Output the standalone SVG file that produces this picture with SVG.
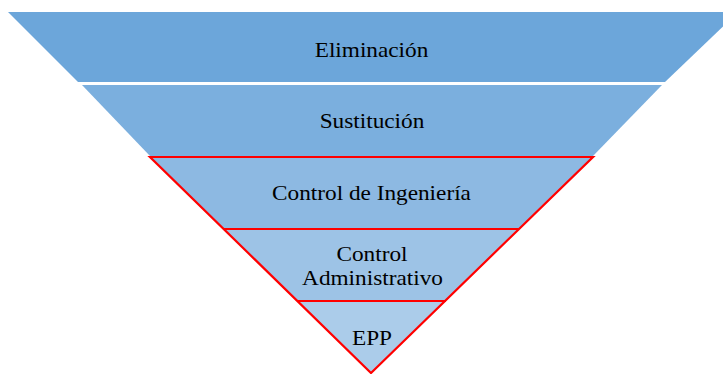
<svg xmlns="http://www.w3.org/2000/svg" width="723" height="374" viewBox="0 0 723 374">
<style>
.lbl{font-family:"Liberation Serif",serif;font-size:20.5px;fill:#000000;text-anchor:middle}
.red{fill:none;stroke:#FF0000;stroke-width:2.2;stroke-linejoin:miter}
</style>
<rect width="723" height="374" fill="#FFFFFF"/>
<g id="eliminacion">
<polygon points="8,12 738,12 665,82 78,82" fill="#6CA6DA"/>
<text class="lbl" transform="translate(371.5,57) scale(1.135,1)">Eliminación</text>
</g>
<g id="sustitucion">
<polygon points="82,85 662,85 593,156 150,156" fill="#7BAFDE"/>
<text class="lbl" transform="translate(372,127.5) scale(1.135,1)">Sustitución</text>
</g>
<g id="control-ingenieria">
<polygon points="150,157 593,157 519,229 224,229" fill="#8DB9E2"/>
<text class="lbl" transform="translate(371.5,199.5) scale(1.135,1)">Control de Ingeniería</text>
</g>
<g id="control-administrativo">
<polygon points="224,229 519,229 446,301 298,301" fill="#9DC3E6"/>
<text class="lbl" transform="translate(372,261) scale(1.135,1)">Control</text>
<text class="lbl" transform="translate(372.5,285) scale(1.135,1)">Administrativo</text>
</g>
<g id="epp">
<polygon points="298,301 446,301 371,373" fill="#ABCCEA"/>
<text class="lbl" transform="translate(372,345) scale(1.135,1)">EPP</text>
</g>
<g id="connectors">
<polygon class="red" points="150,157 593,157 371,373"/>
<line class="red" x1="224" y1="229" x2="519" y2="229"/>
<line class="red" x1="298" y1="301" x2="446" y2="301"/>
</g>
</svg>
